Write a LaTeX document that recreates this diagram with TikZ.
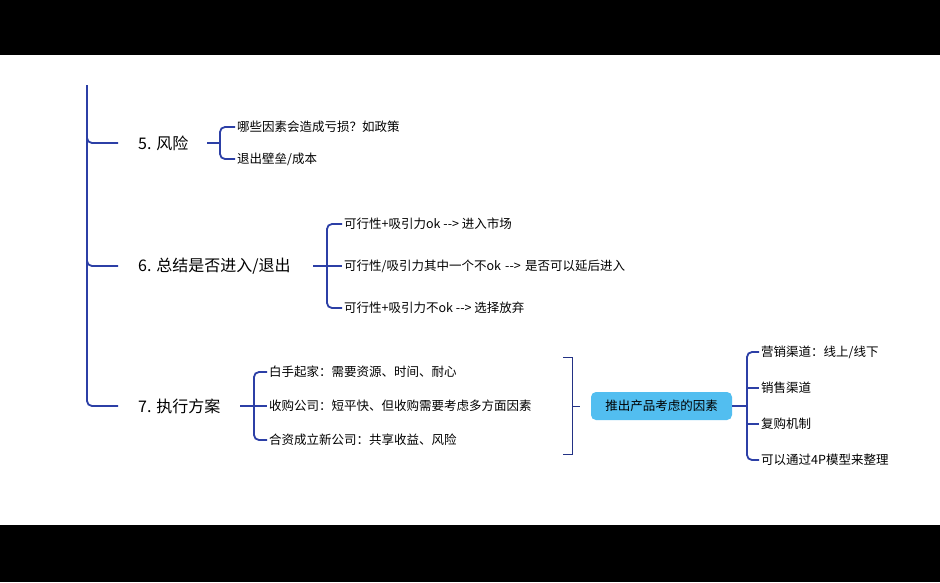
\documentclass[tikz,border=0pt]{standalone}
\usepackage{fontspec}
\setmainfont{Noto Sans CJK SC}
\usetikzlibrary{positioning}
\definecolor{branchblue}{HTML}{2C3FA6}
\definecolor{boxcyan}{HTML}{52BEF0}
\tikzset{
  branch/.style={draw=branchblue, line width=1.8pt, rounded corners=5pt},
  thinbranch/.style={draw=branchblue!80!black, line width=1pt},
  topic/.style={anchor=west, inner sep=1pt, font=\fontsize{16}{18}\selectfont},
  leaf/.style={anchor=west, inner sep=2pt, font=\fontsize{12.5}{13}\selectfont},
}
\begin{document}
\begin{tikzpicture}[x=1pt,y=-1pt]
% background and bars
\fill[white] (0,0) rectangle (940,582);
\fill[black] (0,0) rectangle (940,55);
\fill[black] (0,525) rectangle (940,582);
% main trunk
\node[topic] (risk) at (137,143) {5. 风险};
\node[topic] (sum) at (137,266) {6. 总结是否进入/退出};
\node[topic] (plan) at (137,406) {7. 执行方案};
\draw[branch] (87,85) -- (87,406) -- (118,406);
\draw[branch] (87,130) |- (118,143);
\draw[branch] (87,250) |- (118,266);
% 5
\node[leaf] (r1) at (235,127) {哪些因素会造成亏损？如政策};
\node[leaf] (r2) at (235,159) {退出壁垒/成本};
\draw[branch] (207,143) -- (220,143);
\draw[branch] (r1.west) -| (220,143) |- (r2.west);
% 6
\node[leaf] (s1) at (342,224) {可行性+吸引力ok -{}-> 进入市场};
\node[leaf, text width=282pt, align=left] (s2) at (342,266) {可行性/吸引力其中一个不ok -{}-> 是否可以延后进入};
\node[leaf] (s3) at (342,308) {可行性+吸引力不ok -{}-> 选择放弃};
\draw[branch] (313,266) -- (s2.west);
\draw[branch] (s1.west) -| (327,266) |- (s3.west);
% 7
\node[leaf] (p1) at (267,372) {白手起家：需要资源、时间、耐心};
\node[leaf] (p2) at (267,406) {收购公司：短平快、但收购需要考虑多方面因素};
\node[leaf] (p3) at (267,440) {合资成立新公司：共享收益、风险};
\draw[branch] (240,406) -- (p2.west);
\draw[branch] (p1.west) -| (254,406) |- (p3.west);
% summary bracket
\draw[thinbranch] (563,357) -- (572,357) -- (572,454) -- (563,454);
\node[fill=boxcyan, rounded corners=5pt, minimum width=141pt, minimum height=28pt, inner sep=2pt,
  font=\fontsize{12.5}{13}\selectfont] (factor) at (661.5,406) {推出产品考虑的因素};
\draw[thinbranch] (572,406) -- (580,406);
% factors
\node[leaf] (f1) at (759,352) {营销渠道：线上/线下};
\node[leaf] (f2) at (759,388) {销售渠道};
\node[leaf] (f3) at (759,424) {复购机制};
\node[leaf] (f4) at (759,460) {可以通过4P模型来整理};
\draw[branch] (factor.east) -- (747,406);
\draw[branch] (f1.west) -| (747,406) |- (f4.west);
\draw[branch] (747,388) -- (f2.west);
\draw[branch] (747,424) -- (f3.west);
\end{tikzpicture}
\end{document}
